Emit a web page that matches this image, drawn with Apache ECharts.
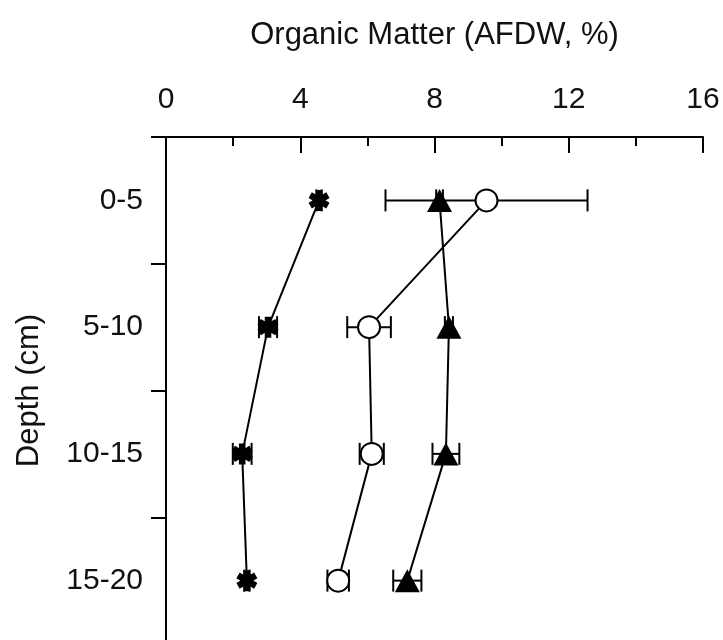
<!DOCTYPE html>
<html>
<head>
<meta charset="utf-8">
<title>Organic Matter by Depth</title>
<script src="https://cdn.jsdelivr.net/npm/echarts@6/dist/echarts.min.js"></script>
<style>
  html, body { margin: 0; padding: 0; background: #fff; overflow: hidden; }
  /* the plot frame runs on past the lower edge of the page */
  #chart { width: 723px; height: 646px; }
</style>
</head>
<body>
<div id="chart"></div>
<script>
// Depth intervals (cm), top to bottom
const depthLabels = ['0-5', '5-10', '10-15', '15-20'];

// Organic matter (AFDW, %) mean and error for each site
const starMean = [4.56, 3.04, 2.27, 2.41];
const starErr = [0.08, 0.27, 0.28, 0.08];

const circleMean = [9.55, 6.05, 6.13, 5.13];
const circleErr = [3.01, 0.65, 0.36, 0.32];

const triMean = [8.15, 8.43, 8.34, 7.19];
const triErr = [0.10, 0.12, 0.40, 0.42];

// x-axis tick settings
const xMin = 0, xMax = 16, xStep = 4;

const FONT = '"Liberation Sans", Arial, sans-serif';
const INK = '#111';

// Six-armed asterisk marker built from three overlapping bars
function asteriskPath() {
  const L = 10, W = 3.2;
  let d = '';
  [90, 30, 150].forEach(function (deg) {
    const a = deg * Math.PI / 180;
    const ux = Math.cos(a), uy = Math.sin(a);
    const px = -uy, py = ux;
    const pts = [
      [ L * ux + W * px,  L * uy + W * py],
      [ L * ux - W * px,  L * uy - W * py],
      [-L * ux - W * px, -L * uy - W * py],
      [-L * ux + W * px, -L * uy + W * py]
    ];
    d += 'M' + pts.map(function (p) { return p[0].toFixed(2) + ' ' + p[1].toFixed(2); }).join('L') + 'Z';
  });
  return 'path://' + d;
}

function pairs(means) {
  return means.map(function (v, i) { return [v, depthLabels[i]]; });
}

function errData(means, errs) {
  return means.map(function (v, i) { return [v - errs[i], i, v + errs[i]]; });
}

function errorBarSeries(means, errs) {
  return {
    type: 'custom',
    z: 1,
    silent: true,
    data: errData(means, errs),
    encode: { x: [0, 2], y: 1 },
    renderItem: function (params, api) {
      const lo = api.coord([api.value(0), api.value(1)]);
      const hi = api.coord([api.value(2), api.value(1)]);
      const cap = 11;
      const style = { stroke: '#000', lineWidth: 2, fill: null };
      return {
        type: 'group',
        children: [
          { type: 'line', shape: { x1: lo[0], y1: lo[1], x2: hi[0], y2: hi[1] }, style: style },
          { type: 'line', shape: { x1: lo[0], y1: lo[1] - cap, x2: lo[0], y2: lo[1] + cap }, style: style },
          { type: 'line', shape: { x1: hi[0], y1: hi[1] - cap, x2: hi[0], y2: hi[1] + cap }, style: style }
        ]
      };
    }
  };
}

function lineSeries(means, symbol, size, itemStyle) {
  return {
    type: 'line',
    z: 3,
    data: pairs(means),
    symbol: symbol,
    symbolSize: size,
    showSymbol: true,
    lineStyle: { color: '#000', width: 2 },
    itemStyle: itemStyle,
    emphasis: { disabled: true }
  };
}

const chart = echarts.init(document.getElementById('chart'), null, { renderer: 'canvas' });

chart.setOption({
  animation: false,
  backgroundColor: '#fff',
  grid: { left: 166, right: 20, top: 137, bottom: 2 },
  xAxis: {
    type: 'value',
    position: 'top',
    min: xMin,
    max: xMax,
    interval: xStep,
    name: 'Organic Matter (AFDW, %)',
    nameLocation: 'middle',
    nameGap: 86,
    nameTextStyle: { fontFamily: FONT, fontSize: 31, color: INK },
    axisLine: { show: true, lineStyle: { color: '#000', width: 2 } },
    axisTick: { show: true, inside: true, length: 16, lineStyle: { color: '#000', width: 2 } },
    minorTick: { show: true, splitNumber: 2, length: 9, lineStyle: { color: '#000', width: 2 } },
    splitLine: { show: false },
    minorSplitLine: { show: false },
    axisLabel: { fontFamily: FONT, fontSize: 30, color: INK, margin: 22 }
  },
  yAxis: {
    type: 'category',
    data: depthLabels,
    inverse: true,
    boundaryGap: true,
    name: 'Depth (cm)',
    nameLocation: 'middle',
    nameGap: 121,
    nameTextStyle: { fontFamily: FONT, fontSize: 31, color: INK },
    axisLine: { show: true, lineStyle: { color: '#000', width: 2 } },
    axisTick: { show: true, inside: false, length: 15, alignWithLabel: false, lineStyle: { color: '#000', width: 2 } },
    splitLine: { show: false },
    axisLabel: { fontFamily: FONT, fontSize: 30, color: INK, margin: 23 }
  },
  series: [
    errorBarSeries(starMean, starErr),
    errorBarSeries(circleMean, circleErr),
    errorBarSeries(triMean, triErr),
    lineSeries(starMean, asteriskPath(), [21, 21], { color: '#000' }),
    lineSeries(triMean, 'triangle', [25, 23], { color: '#000' }),
    lineSeries(circleMean, 'circle', 22, { color: '#fff', borderColor: '#000', borderWidth: 2 })
  ]
});
</script>
</body>
</html>
